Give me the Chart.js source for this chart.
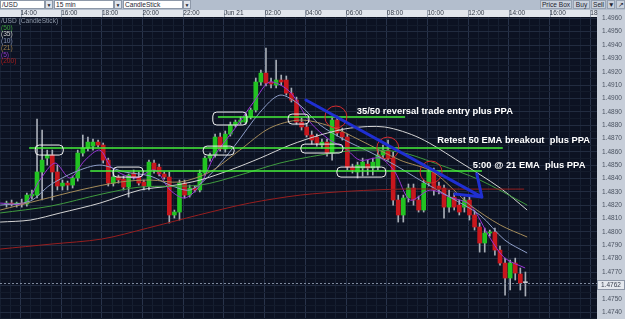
<!DOCTYPE html>
<html>
<head>
<meta charset="utf-8">
<script src="https://cdn.jsdelivr.net/npm/chart.js@4.4.1/dist/chart.umd.min.js"></script>
<style>
  html, body { margin: 0; padding: 0; overflow: hidden; }
  body { width: 625px; height: 319px; position: relative; background: #b5c0ce; font-family: "Liberation Sans", Arial, sans-serif; }
  #bar { position: absolute; left: 0; top: 0; width: 625px; height: 10px; background: #b3becd; }
  #bar div { position: absolute; top: 0; height: 9px; box-sizing: border-box; font-size: 6.6px; line-height: 8px; color: #1d2430; white-space: nowrap; }
  .sel { background: #fff; border: 1px solid #8d98a8; padding-left: 1px; }
  .dd { background: #dfe4eb; border: 1px solid #8d98a8; text-align: center; font-size: 5px !important; }
  .btn { background: #c9d1dc; border: 1px solid #97a2b2; text-align: center; }
  #wrap { position: absolute; left: 0; top: 10px; width: 625px; height: 309px; }
  #legend { position: absolute; left: 1px; top: 18px; font-size: 6.6px; line-height: 6.7px; }
</style>
</head>
<body>
<div id="bar">
  <div class="sel" style="left:0;width:45px">/USD</div>
  <div class="dd" style="left:45px;width:8px">&#9660;</div>
  <div class="sel" style="left:54px;width:60px">15 min</div>
  <div class="dd" style="left:114px;width:8px">&#9660;</div>
  <div class="sel" style="left:123px;width:60px">CandleStick</div>
  <div class="dd" style="left:183px;width:8px">&#9660;</div>
  <div class="btn" style="left:540px;width:32px">Price Box</div>
  <div class="btn" style="left:573px;width:17px">Buy</div>
  <div class="btn" style="left:591px;width:15px">Sell</div>
  <div class="btn" style="left:607px;width:8px">&#9660;</div>
  <div class="btn" style="left:616px;width:9px">&#8599;</div>
</div>
<div id="wrap"><canvas id="chart"></canvas></div>
<div id="legend">
  <div style="color:#8e98a8">/USD (CandleStick)</div>
  <div style="color:#3c9d3c">(50)</div>
  <div style="color:#d0d0d0">(35)</div>
  <div style="color:#8794b8">(10)</div>
  <div style="color:#9d7f4c">(21)</div>
  <div style="color:#9138c8">(5)</div>
  <div style="color:#a81e1e">(200)</div>
</div>
<script>
// --- Datos (velas de 15 min, la primera es la vela -3; 0 = 14:00) ---
const firstCandle = -3;
const opens = [1.48209, 1.48216, 1.48209, 1.48216, 1.48209, 1.48269, 1.48276, 1.48449, 1.48553, 1.48576,
  1.48449, 1.48344, 1.48366, 1.48351, 1.48404, 1.48591, 1.48628, 1.48643, 1.48673, 1.48651,
  1.48538, 1.48366, 1.48411, 1.48396, 1.48336, 1.48441, 1.48411, 1.48374, 1.48344, 1.48516,
  1.48486, 1.48434, 1.48411, 1.48127, 1.48149, 1.48366, 1.48276, 1.48329, 1.48314, 1.48441,
  1.48553, 1.48576, 1.48711, 1.48621, 1.48733, 1.48801, 1.48823, 1.48823, 1.48861, 1.48913,
  1.49123, 1.49190, 1.49123, 1.49100, 1.49138, 1.49138, 1.49040, 1.48988, 1.48823, 1.48786,
  1.48726, 1.48711, 1.48651, 1.48673, 1.48591, 1.48838, 1.48748, 1.48711, 1.48486, 1.48449,
  1.48479, 1.48508, 1.48479, 1.48486, 1.48576, 1.48613, 1.48553, 1.48239, 1.48127, 1.48254,
  1.48329, 1.48239, 1.48164, 1.48366, 1.48449, 1.48344, 1.48329, 1.48186, 1.48261, 1.48201,
  1.48186, 1.48239, 1.48127, 1.48037, 1.47917, 1.47992, 1.47999, 1.47864, 1.47767, 1.47655,
  1.47767, 1.47685, 1.47620];
const highs = [1.48231, 1.48239, 1.48224, 1.48246, 1.48291, 1.48314, 1.48846, 1.48763, 1.48613, 1.48613,
  1.48501, 1.48389, 1.48381, 1.48419, 1.48613, 1.48726, 1.48711, 1.48696, 1.48688, 1.48666,
  1.48553, 1.48464, 1.48426, 1.48419, 1.48434, 1.48464, 1.48449, 1.48389, 1.48538, 1.48538,
  1.48508, 1.48449, 1.48449, 1.48164, 1.48389, 1.48389, 1.48351, 1.48344, 1.48464, 1.48568,
  1.48591, 1.48733, 1.48741, 1.48756, 1.48823, 1.48838, 1.48861, 1.48883, 1.48928, 1.49153,
  1.49213, 1.49377, 1.49153, 1.49288, 1.49175, 1.49168, 1.49078, 1.49010, 1.48853, 1.48808,
  1.48756, 1.48733, 1.48696, 1.48696, 1.48853, 1.48868, 1.48778, 1.48733, 1.48508, 1.48523,
  1.48553, 1.48538, 1.48553, 1.48613, 1.48651, 1.48688, 1.48598, 1.48276, 1.48276, 1.48359,
  1.48359, 1.48269, 1.48389, 1.48479, 1.48479, 1.48374, 1.48351, 1.48314, 1.48291, 1.48239,
  1.48261, 1.48261, 1.48157, 1.48067, 1.48029, 1.48014, 1.48029, 1.47894, 1.47804, 1.47789,
  1.47804, 1.47730, 1.47700];
const lows = [1.48186, 1.48194, 1.48186, 1.48186, 1.48194, 1.48246, 1.48254, 1.48239, 1.48501, 1.48239,
  1.48314, 1.48314, 1.48314, 1.48329, 1.48381, 1.48568, 1.48606, 1.48613, 1.48636, 1.48516,
  1.48344, 1.48344, 1.48366, 1.48314, 1.48261, 1.48396, 1.48351, 1.48314, 1.48314, 1.48441,
  1.48419, 1.48396, 1.48067, 1.48104, 1.48089, 1.48254, 1.48261, 1.48299, 1.48299, 1.48426,
  1.48531, 1.48561, 1.48606, 1.48598, 1.48718, 1.48786, 1.48808, 1.48808, 1.48846, 1.48898,
  1.49100, 1.49093, 1.49078, 1.49078, 1.49100, 1.49025, 1.48973, 1.48808, 1.48763, 1.48711,
  1.48658, 1.48643, 1.48628, 1.48568, 1.48538, 1.48718, 1.48688, 1.48464, 1.48441, 1.48404,
  1.48419, 1.48426, 1.48426, 1.48464, 1.48553, 1.48538, 1.48201, 1.48074, 1.48074, 1.48224,
  1.48201, 1.48149, 1.48149, 1.48344, 1.48276, 1.48284, 1.48104, 1.48149, 1.48164, 1.48127,
  1.48149, 1.48089, 1.48014, 1.47849, 1.47849, 1.47969, 1.47827, 1.47752, 1.47527, 1.47565,
  1.47640, 1.47565, 1.47520];
const closes = [1.48216, 1.48209, 1.48216, 1.48209, 1.48276, 1.48284, 1.48449, 1.48538, 1.48576, 1.48449,
  1.48344, 1.48366, 1.48351, 1.48404, 1.48591, 1.48628, 1.48673, 1.48673, 1.48651, 1.48538,
  1.48366, 1.48411, 1.48389, 1.48336, 1.48426, 1.48411, 1.48366, 1.48344, 1.48523, 1.48464,
  1.48434, 1.48411, 1.48127, 1.48149, 1.48366, 1.48276, 1.48329, 1.48314, 1.48441, 1.48553,
  1.48576, 1.48711, 1.48621, 1.48733, 1.48801, 1.48823, 1.48838, 1.48861, 1.48913, 1.49123,
  1.49190, 1.49115, 1.49108, 1.49138, 1.49123, 1.49040, 1.48988, 1.48823, 1.48786, 1.48726,
  1.48688, 1.48666, 1.48673, 1.48591, 1.48838, 1.48741, 1.48711, 1.48486, 1.48464, 1.48501,
  1.48523, 1.48479, 1.48523, 1.48576, 1.48613, 1.48553, 1.48239, 1.48127, 1.48254, 1.48329,
  1.48239, 1.48164, 1.48366, 1.48449, 1.48314, 1.48321, 1.48186, 1.48261, 1.48186, 1.48149,
  1.48239, 1.48127, 1.48037, 1.47917, 1.47992, 1.47999, 1.47864, 1.47767, 1.47655, 1.47767,
  1.47692, 1.47617, 1.47620];

// Etiquetas del eje de tiempo (una cada 8 velas = 2 horas)
const timeLabels = ['14:00', '16:00', '18:00', '20:00', '22:00', 'Jun 21', '02:00', '04:00',
  '06:00', '08:00', '10:00', '12:00', '14:00', '16:00', '18'];
const lastPrice = 1.4762;

// Medias móviles (x en velas, y en precio)
const ma200X = [-4, 6, 16, 25, 35, 45, 55, 65, 75, 84, 99];
const ma200Y = [1.47872, 1.47909, 1.47947, 1.48029, 1.48127, 1.48216, 1.48276, 1.48306, 1.48321, 1.48321, 1.48321];
const ma50X = [-4, 6, 16, 23.5, 35.3, 43.1, 51, 58.9, 66.7, 74.6, 82.5, 90.3, 99.6];
const ma50Y = [1.48142, 1.48194, 1.48284, 1.48336, 1.48351, 1.48426, 1.48516, 1.48576, 1.48613, 1.48598, 1.48501, 1.48389, 1.48201];
const ma35X = [-4, 1.9, 7.8, 15.6, 23.5, 29.4, 35.3, 41.2, 47.1, 53, 58.9, 64.8, 71.6, 78.5, 86.4, 94.3, 99.6];
const ma35Y = [1.48074, 1.48089, 1.48142, 1.48216, 1.48314, 1.48344, 1.48389, 1.48464, 1.48553, 1.48651, 1.48726, 1.48778, 1.48786, 1.48703, 1.48523, 1.48329, 1.48164];
const ma21X = [-4, 3.8, 11.7, 19.6, 25.5, 31.3, 37.2, 43.1, 49, 54.9, 60.8, 66.7, 74.6, 81.1, 88.4, 94.3, 99.6];
const ma21Y = [1.48164, 1.48239, 1.48314, 1.48374, 1.48389, 1.48374, 1.48449, 1.48613, 1.48778, 1.48838, 1.48793, 1.48688, 1.48538, 1.48449, 1.48201, 1.48052, 1.47962];
const ma10X = [-4, 1.9, 5.8, 10.7, 15.6, 20.5, 25.5, 29.4, 33.3, 37.2, 42.2, 47.1, 51, 54.9, 58.9, 63.8, 68.7, 73.6, 78.5, 84.4, 90.3, 95.2, 99.6];
const ma10Y = [1.48201, 1.48231, 1.48351, 1.48449, 1.48501, 1.48449, 1.48419, 1.48351, 1.48314, 1.48426, 1.48651, 1.48898, 1.49025, 1.48950, 1.48801, 1.48688, 1.48598, 1.48501, 1.48389, 1.48261, 1.48127, 1.47939, 1.47842];
const ma5X = [-4, 0.9, 3.8, 6.8, 9.7, 12.7, 15.6, 18, 22.5, 26.4, 29.4, 32.3, 35.3, 38.2, 42.2, 46.1, 49, 53, 56.9, 60.8, 63.8, 66.7, 70.7, 73.6, 76.6, 80.5, 84.4, 88.4, 92.3, 95.2, 99.2];
const ma5Y = [1.48216, 1.48216, 1.48389, 1.48516, 1.48404, 1.48538, 1.48613, 1.48479, 1.48404, 1.48464, 1.48314, 1.48254, 1.48351, 1.48576, 1.48778, 1.48988, 1.49123, 1.49048, 1.48823, 1.48688, 1.48628, 1.48538, 1.48553, 1.48449, 1.48239, 1.48314, 1.48261, 1.48201, 1.47954, 1.47804, 1.47730];

// --- Anotaciones dibujadas a mano en la captura ---
const levelPrice = [1.48861, 1.48628, 1.48456];
const levelFrom = [38.8, 1.7, 13.7];
const levelTo = [75.6, 94.8, 90.7];
const boxX0 = [2.9, 18.2, 35.9, 37.8, 52.6, 55.1, 62.2];
const boxX1 = [8.4, 24.1, 42.0, 44.5, 56.7, 63.4, 71.8];
const boxTop = [1.48651, 1.48486, 1.48643, 1.48898, 1.48883, 1.48658, 1.48486];
const boxBottom = [1.48576, 1.48411, 1.48576, 1.48801, 1.48808, 1.48591, 1.48411];
const circleX = [62, 72.2, 80.7];
const circleY = [1.48861, 1.48628, 1.48449];
const arrowX = [56.1, 90.7, 89.7, 85.4];
const arrowY = [1.48988, 1.48261, 1.48434, 1.48284];
const noteText = ['35/50 reversal trade entry plus PPA', 'Retest 50 EMA breakout  plus PPA', '5:00 @ 21 EMA  plus PPA'];
const noteX = [66.1, 81.9, 88.9];
const noteY = [1.48906, 1.48688, 1.48501];

// --- Construcción de datasets ---
const candleX = opens.map((_, k) => firstCandle + k + 0.25);
const candleColor = opens.map((o, k) => closes[k] > o ? '#22c322' : (closes[k] < o ? '#c8171d' : '#c8ccd2'));
const toPoints = (xs, ys) => xs.map((x, k) => ({ x, y: ys[k] }));

function maLine(xs, ys, color) {
    return {
        type: 'line',
        data: toPoints(xs, ys),
        borderColor: color,
        borderWidth: 1,
        pointRadius: 0,
        tension: 0.3,
        order: 0
    };
}

// Quita el relleno que Chart.js reserva para las etiquetas extremas
function noPadding(s) {
    s.paddingTop = 0;
    s.paddingBottom = 0;
    s.paddingLeft = 0;
    s.paddingRight = 0;
}

const chartFrame = {
    id: 'chartFrame',
    beforeDraw(chart) {
        const { ctx, chartArea: a, width, height } = chart;
        const xs = chart.scales.x;
        ctx.save();
        ctx.fillStyle = '#c7ced9';
        ctx.fillRect(a.right, 0, width - a.right, height);
        ctx.fillStyle = '#e2e6ec';
        ctx.fillRect(0, 0, a.right, a.top);
        ctx.fillStyle = '#0c1222';
        ctx.fillRect(a.left, a.top, a.right - a.left, height - a.top);
        // separadores del eje de tiempo
        ctx.strokeStyle = '#9aa3b1';
        ctx.lineWidth = 1;
        timeLabels.forEach((_, j) => {
            const x = Math.round(xs.getPixelForValue(j * 8)) + 0.5;
            ctx.beginPath();
            ctx.moveTo(x, 0);
            ctx.lineTo(x, a.top);
            ctx.stroke();
        });
        ctx.restore();
    },
    afterDatasetsDraw(chart) {
        const { ctx, chartArea: a } = chart;
        const px = v => chart.scales.x.getPixelForValue(v);
        const py = v => chart.scales.y.getPixelForValue(v);
        ctx.save();
        ctx.beginPath();
        ctx.rect(a.left, a.top, a.right - a.left, a.bottom - a.top);
        ctx.clip();

        // línea del último precio
        ctx.strokeStyle = '#7d889c';
        ctx.setLineDash([2, 2]);
        ctx.lineWidth = 1;
        const lp = Math.round(py(lastPrice)) + 0.5;
        ctx.beginPath();
        ctx.moveTo(a.left, lp);
        ctx.lineTo(a.right, lp);
        ctx.stroke();
        ctx.setLineDash([]);

        // niveles verdes
        ctx.strokeStyle = '#45f03a';
        ctx.lineWidth = 1.5;
        levelPrice.forEach((p, k) => {
            ctx.beginPath();
            ctx.moveTo(px(levelFrom[k]), py(p));
            ctx.lineTo(px(levelTo[k]), py(p));
            ctx.stroke();
        });

        // cajas blancas
        ctx.strokeStyle = '#f2f2f2';
        ctx.lineWidth = 1;
        boxX0.forEach((x0, k) => {
            const l = px(x0), r = px(boxX1[k]), t = py(boxTop[k]), b = py(boxBottom[k]);
            ctx.beginPath();
            ctx.roundRect(l, t, r - l, b - t, 4);
            ctx.stroke();
        });

        // círculos rojos
        ctx.strokeStyle = '#d42a2e';
        circleX.forEach((cx, k) => {
            ctx.beginPath();
            ctx.arc(px(cx), py(circleY[k]), 11, 0, Math.PI * 2);
            ctx.stroke();
        });

        // flecha azul
        ctx.strokeStyle = '#1f2fd2';
        ctx.lineWidth = 3;
        ctx.lineJoin = 'round';
        ctx.lineCap = 'round';
        ctx.beginPath();
        ctx.moveTo(px(arrowX[0]), py(arrowY[0]));
        ctx.lineTo(px(arrowX[1]), py(arrowY[1]));
        ctx.lineTo(px(arrowX[2]), py(arrowY[2]));
        ctx.moveTo(px(arrowX[1]), py(arrowY[1]));
        ctx.lineTo(px(arrowX[3]), py(arrowY[3]));
        ctx.stroke();

        // textos
        ctx.fillStyle = '#ffffff';
        ctx.font = 'bold 9.4px "Liberation Sans", Arial, sans-serif';
        ctx.textBaseline = 'middle';
        noteText.forEach((t, k) => ctx.fillText(t, px(noteX[k]), py(noteY[k])));
        ctx.restore();
    },
    afterDraw(chart) {
        const { ctx, chartArea: a, width } = chart;
        const y = Math.round(chart.scales.y.getPixelForValue(lastPrice)) + 2;
        ctx.save();
        ctx.fillStyle = '#e4e8ee';
        ctx.fillRect(a.right, y - 5, width - a.right, 10);
        ctx.strokeStyle = '#8b95a6';
        ctx.strokeRect(a.right + 0.5, y - 4.5, width - a.right - 1, 9);
        ctx.fillStyle = '#3a4150';
        ctx.font = '6.5px "Liberation Sans", Arial, sans-serif';
        ctx.textBaseline = 'middle';
        ctx.fillText(lastPrice.toFixed(4), a.right + 4, y + 0.5);
        ctx.restore();
    }
};

new Chart(document.getElementById('chart'), {
    type: 'bar',
    data: {
        datasets: [
            maLine(ma200X, ma200Y, '#971e1e'),
            maLine(ma50X, ma50Y, '#3f9b3f'),
            maLine(ma35X, ma35Y, '#d4d4d4'),
            maLine(ma21X, ma21Y, '#a58c5a'),
            maLine(ma10X, ma10Y, '#8e9ec8'),
            maLine(ma5X, ma5Y, '#9a34d6'),
            {
                // mechas
                data: candleX.map((x, k) => ({ x, y: [lows[k], highs[k]] })),
                backgroundColor: '#a7adb6',
                barThickness: 1,
                grouped: false,
                order: 2
            },
            {
                // cuerpos
                data: candleX.map((x, k) => ({ x, y: [Math.min(opens[k], closes[k]), Math.max(opens[k], closes[k])] })),
                backgroundColor: candleColor,
                barThickness: 4,
                minBarLength: 1,
                grouped: false,
                order: 1
            }
        ]
    },
    options: {
        responsive: true,
        maintainAspectRatio: false,
        animation: false,
        layout: { padding: 0 },
        plugins: { legend: { display: false }, tooltip: { enabled: false } },
        scales: {
            x: {
                type: 'linear',
                position: 'top',
                min: -4.03,
                max: 113.32,
                offset: false,
                afterFit: s => { s.height = 7; noPadding(s); },
                afterBuildTicks: s => {
                    const t = [];
                    for (let v = -4; v <= 112; v += 2) t.push({ value: v });
                    s.ticks = t;
                },
                ticks: {
                    autoSkip: false,
                    maxRotation: 0,
                    align: 'start',
                    padding: 0,
                    color: '#333a46',
                    font: { size: 6.5, family: '"Liberation Sans", Arial, sans-serif' },
                    callback: v => (v % 8 === 0 && v >= 0) ? timeLabels[v / 8] : ''
                },
                grid: {
                    offset: false,
                    drawTicks: false,
                    color: ctx => (ctx.tick && ctx.tick.value % 8 === 0) ? '#28334a' : '#161f31'
                },
                border: { display: false }
            },
            y: {
                type: 'linear',
                position: 'right',
                min: 1.47348,
                max: 1.49610,
                afterFit: s => { s.width = 28; noPadding(s); },
                afterBuildTicks: s => {
                    const t = [];
                    for (let k = 14735; k <= 14960; k += 5) t.push({ value: k / 10000 });
                    s.ticks = t;
                },
                ticks: {
                    autoSkip: false,
                    padding: 5,
                    color: '#4a5260',
                    font: { size: 6.5, family: '"Liberation Sans", Arial, sans-serif' },
                    callback: v => (Math.round(v * 10000) % 10 === 0) ? v.toFixed(4) : ''
                },
                grid: {
                    drawTicks: false,
                    color: ctx => (ctx.tick && Math.round(ctx.tick.value * 10000) % 10 === 0) ? '#222c40' : '#141c2c'
                },
                border: { display: false }
            }
        }
    },
    plugins: [chartFrame]
});
</script>
</body>
</html>
